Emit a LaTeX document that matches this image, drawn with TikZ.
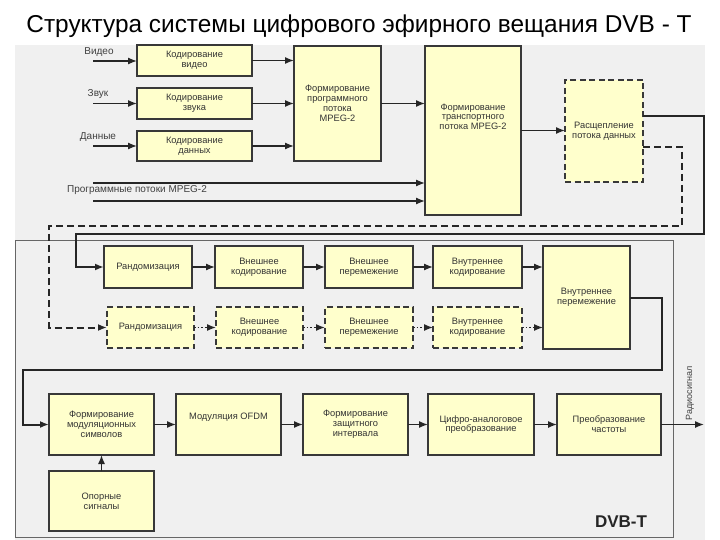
\documentclass[tikz,border=0pt]{standalone}
\usepackage{fontspec}
\setmainfont{Liberation Sans}
\usetikzlibrary{arrows.meta,calc}
\definecolor{boxfill}{HTML}{FFFFCC}
\definecolor{bg}{HTML}{F0F0F0}
\definecolor{edge}{HTML}{383838}
\tikzset{
  blk/.style={draw=edge, line width=1.2pt, fill=boxfill, align=center,
    font=\fontsize{9.3}{9.8}\selectfont, text=black!80, inner sep=1pt, outer sep=0pt},
  dblk/.style={blk, dash pattern=on 6pt off 3.5pt, line width=1.4pt},
  arr/.style={line width=1.3pt, draw=black!85, -{Latex[length=9pt,width=7pt]}},
  darr/.style={arr, dash pattern=on 1.8pt off 1.8pt},
  loopline/.style={line width=2pt, draw=black!85, -{Latex[length=9pt,width=7pt]}},
  dloop/.style={loopline, dash pattern=on 7pt off 4pt},
  lbl/.style={font=\fontsize{10}{11}\selectfont, text=black!75, inner sep=1pt},
}
\begin{document}
\begin{tikzpicture}[x=1pt,y=-1pt]
\useasboundingbox (0,0) rectangle (720,540);
\fill[bg] (15,45) rectangle (705,540);
\draw[fill=bg, draw=black!60, line width=1pt] (15,240) rectangle (673,537);

\node[font=\fontsize{24.4}{28}\selectfont] (title) at (359,26) {Структура системы цифрового эфирного вещания DVB - T};

% top section
\node[blk, minimum width=115pt, minimum height=31pt] (vid) at (194.5,60.5) {Кодирование\\видео};
\node[blk, minimum width=115pt, minimum height=31pt] (snd) at (194.5,103.5) {Кодирование\\звука};
\node[blk, minimum width=115pt, minimum height=30pt] (dat) at (194.5,146) {Кодирование\\данных};
\node[blk, minimum width=87pt, minimum height=115pt] (prog) at (337.5,103.5) {Формирование\\программного\\потока\\MPEG-2};
\node[blk, minimum width=96pt, minimum height=169pt] (trans) at (473,130.5) {Формирование\\транспортного\\потока MPEG-2\\[18pt]};
\node[dblk, minimum width=78pt, minimum height=102pt] (split) at (604,131) {Расщепление\\потока данных};

\node[lbl] (lv) at (99,52) {Видео};
\node[lbl] (ls) at (98,94) {Звук};
\node[lbl] (ld) at (98,137) {Данные};
\node[lbl] (lm) at (137,190) {Программные потоки MPEG-2};

\coordinate (inV) at (93,61);
\coordinate (inS) at (93,103.5);
\coordinate (inD) at (93,146);
\coordinate (inM1) at (93,183);
\coordinate (inM2) at (93,201);
\draw[arr] (inV) -- (inV -| vid.west);
\draw[arr] (inS) -- (inS -| snd.west);
\draw[arr] (inD) -- (inD -| dat.west);
\draw[arr] (vid.east) -- (vid.east -| prog.west);
\draw[arr] (snd.east) -- (snd.east -| prog.west);
\draw[arr] (dat.east) -- (dat.east -| prog.west);
\draw[arr] (prog.east) -- (prog.east -| trans.west);
\draw[arr] (inM1) -- (inM1 -| trans.west);
\draw[arr] (inM2) -- (inM2 -| trans.west);
\draw[arr] (trans.east) -- (trans.east -| split.west);

% DVB-T section
\node[blk, minimum width=88pt, minimum height=42pt] (rand1) at (148,267) {Рандомизация};
\node[blk, minimum width=88pt, minimum height=42pt] (oc1) at (259,267) {Внешнее\\кодирование};
\node[blk, minimum width=88pt, minimum height=42pt] (oi1) at (369,267) {Внешнее\\перемежение};
\node[blk, minimum width=89pt, minimum height=42pt] (ic1) at (477.5,267) {Внутреннее\\кодирование};
\node[blk, minimum width=87pt, minimum height=103pt] (ii) at (586.5,297.5) {Внутреннее\\перемежение};

\node[dblk, minimum width=87pt, minimum height=41pt] (rand2) at (150.5,327.5) {Рандомизация};
\node[dblk, minimum width=87pt, minimum height=41pt] (oc2) at (259.5,327.5) {Внешнее\\кодирование};
\node[dblk, minimum width=88pt, minimum height=41pt] (oi2) at (369,327.5) {Внешнее\\перемежение};
\node[dblk, minimum width=89pt, minimum height=41pt] (ic2) at (477.5,327.5) {Внутреннее\\кодирование};

\node[blk, minimum width=105pt, minimum height=61pt] (ms) at (101.5,424.5) {Формирование\\модуляционных\\символов};
\node[blk, minimum width=105pt, minimum height=61pt] (ofdm) at (228.5,424.5) {Модуляция OFDM\\[6pt]};
\node[blk, minimum width=105pt, minimum height=61pt] (gi) at (355.5,424.5) {Формирование\\защитного\\интервала};
\node[blk, minimum width=106pt, minimum height=61pt] (dac) at (481,424.5) {Цифро-аналоговое\\преобразование};
\node[blk, minimum width=104pt, minimum height=61pt] (fc) at (609,424.5) {Преобразование\\частоты};
\node[blk, minimum width=105pt, minimum height=60pt] (ref) at (101.5,501) {Опорные\\сигналы};

\node[lbl, rotate=90, font=\fontsize{9}{10}\selectfont] (radio) at (690,393) {Радиосигнал};
\node[font=\bfseries\fontsize{17}{19}\selectfont, text=black!85] (dvbt) at (621,522) {DVB-T};

% loops from splitter
\coordinate (ya) at (0,116);
\coordinate (yb) at (0,147);
\draw[loopline] (split.east |- ya) -- (704,116) -- (704,234) -- (76,234) -- (76,267) -- (rand1.west);
\draw[dloop] (split.east |- yb) -- (682,147) -- (682,226) -- (49,226) -- (49,327.5) -- (rand2.west);

% row 1
\draw[arr] (rand1) -- (oc1);
\draw[arr] (oc1) -- (oi1);
\draw[arr] (oi1) -- (ic1);
\draw[arr] (ic1.east) -- (ic1.east -| ii.west);
% row 2
\draw[darr] (rand2) -- (oc2);
\draw[darr] (oc2) -- (oi2);
\draw[darr] (oi2) -- (ic2);
\draw[darr] (ic2.east) -- (ic2.east -| ii.west);

% loop to row 3
\draw[loopline] (ii.east) -- (662,297.5) -- (662,370) -- (23,370) -- (23,424.5) -- (ms.west);

% row 3
\draw[arr] (ms) -- (ofdm);
\draw[arr] (ofdm) -- (gi);
\draw[arr] (gi) -- (dac);
\draw[arr] (dac) -- (fc);
\coordinate (out) at (704,424.5);
\draw[arr] (fc.east) -- (out);
\draw[arr] (ref) -- (ms);
\end{tikzpicture}
\end{document}
